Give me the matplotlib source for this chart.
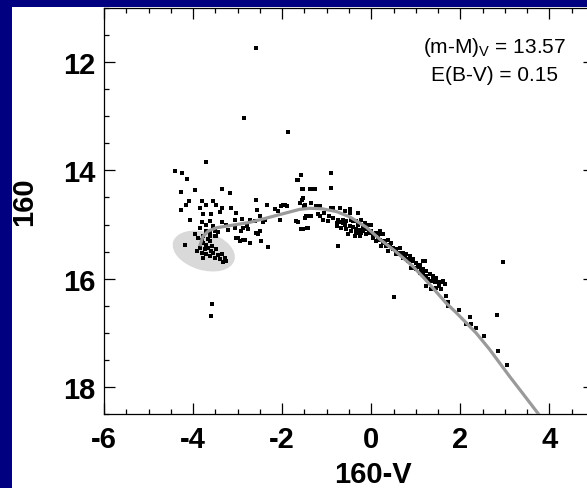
import matplotlib
matplotlib.use("Agg")
import matplotlib.pyplot as plt
from matplotlib.patches import Ellipse, Rectangle
from matplotlib import transforms
from matplotlib.ticker import MultipleLocator

plt.rcParams["font.family"] = ["Liberation Sans", "DejaVu Sans"]
plt.rcParams["font.weight"] = "bold"
plt.rcParams["axes.unicode_minus"] = False

# Star photometry: colour (160-V) and magnitude (160)
star_color = [
    -2.58, -2.86, -1.86, -3.70, -4.41, -4.26, -4.13, -4.28, -3.95, -3.34, -3.18, -2.58, -1.66,
    -4.09, -4.15, -4.28, -3.79, -3.70, -3.55, -3.49, -3.85, -3.35, -3.40, -3.14, -3.03, -3.59,
    -3.77, -4.07, -3.81, -3.62, -3.70, -3.55, -3.36, -3.85, -3.21, -3.70, -3.51, -3.26, -3.06,
    -3.78, -3.62, -3.48,
    -2.35, -2.56, -2.17, -2.09, -2.02, -1.90, -2.91, -3.06, -2.73, -2.50, -2.39, -2.80, -2.05,
    -2.99, -2.88, -2.73, -2.58, -2.47, -2.32, -1.68, -1.64, -1.55, -1.53, -1.50, -1.42, -1.64,
    -1.53, -1.44, -1.98, -2.62, -2.43, -2.88, -2.77, -2.92, -2.50, -2.54, -3.03, -2.84, -2.95,
    -3.96, -3.89, -3.62, -3.51, -3.44, -3.77, -3.70, -3.62, -3.85, -3.74, -3.66, -3.59, -3.92,
    -3.81, -3.70, -3.55, -3.62, -3.51, -3.36, -3.40, -3.29, -3.33, -3.25, -3.77, -4.19, -3.80,
    -3.66, -3.72, -3.58, -3.48, -3.45, -3.57, -3.60,
    -1.57, -0.90, -1.53, -1.31, -0.90, -1.27, -1.38, -1.55, -1.35, -1.23, -1.94, -1.61, -1.49,
    -1.16, -0.86, -0.71, -0.60, -0.48, -0.30, -0.90, -0.48, -1.68, -1.57, -1.42, -1.49, -1.35,
    -1.16, -1.08, -1.46, -0.97, -0.78, -0.86, -0.75, -0.63, -0.56, -0.45, -0.34, -0.63, -0.41,
    -0.78, -0.67, -0.56, -0.45, -0.34, -0.22, -0.11, 0.00, -0.48, -0.30, -0.19, -0.11, -0.04,
    -0.52, -0.37, -0.26, -0.75, -0.34, -0.26, -0.11, -0.22, -0.15, -0.04,
    -0.04, 0.04, 0.19, 0.11, 0.26, 0.22, 0.34, -0.19, 0.00, 0.11, 0.19, 0.26, 0.19, 0.30,
    0.37, 0.45, 0.34, 0.49, 0.56, 0.64, 0.71, 0.60, 0.79, 0.86, 0.93, 0.82, 1.01, 1.09, 1.20,
    1.16, 1.23, 1.31, 1.38, 0.97, 0.37, 0.49, 0.56, 0.64, 0.71, 0.79, 0.86, 0.93, 0.90, 1.01,
    1.09, 1.16, 1.23, 1.31, 1.38, 1.46, 1.53, 1.61, 0.52, 1.23, 1.35, 1.46, 1.16, 1.27, 1.42,
    1.53, 1.57, 1.20, 1.35, 1.65, 1.57, 1.17,
    0.05, 0.15, 0.28, 0.42, 0.55, 0.68, 0.75, 0.88, 1.05, 1.12, -0.60, -0.40, -0.25, -0.70,
    -0.95, -1.20, -1.05,
    1.68, 1.72, 1.98, 2.22, 2.13, 2.24, 2.35, 2.83, 2.54, 2.84, 3.04, 2.95, 1.72,
]
star_mag = [
    11.73, 13.04, 13.29, 13.84, 14.02, 14.05, 14.16, 14.40, 14.37, 14.35, 14.41, 14.54, 14.17,
    14.57, 14.63, 14.74, 14.57, 14.63, 14.57, 14.63, 14.69, 14.69, 14.76, 14.69, 14.78, 14.80,
    14.80, 14.91, 14.96, 14.94, 15.00, 15.03, 14.96, 15.06, 15.10, 15.12, 15.12, 15.00, 15.06,
    15.21, 15.21, 15.21,
    14.63, 14.74, 14.71, 14.75, 14.66, 14.65, 14.89, 14.91, 14.91, 14.85, 14.91, 15.02, 14.91,
    15.24, 15.29, 15.35, 15.15, 15.31, 15.42, 14.94, 14.17, 14.35, 14.51, 14.66, 14.85, 14.96,
    15.09, 15.06, 14.63, 14.94, 14.95, 15.06, 15.08, 15.12, 15.12, 15.18, 15.24, 15.28, 15.31,
    15.18, 15.24, 15.15, 15.21, 15.14, 15.34, 15.37, 15.31, 15.43, 15.46, 15.43, 15.49, 15.49,
    15.52, 15.55, 15.52, 15.58, 15.61, 15.55, 15.64, 15.61, 15.70, 15.68, 15.61, 15.37, 15.28,
    15.26, 15.40, 15.40, 15.45, 15.56, 16.46, 16.69,
    14.08, 14.05, 14.34, 14.34, 14.32, 14.34, 14.35, 14.54, 14.61, 14.65, 14.63, 14.60, 14.63,
    14.66, 14.69, 14.69, 14.75, 14.78, 14.78, 14.69, 14.72, 14.94, 15.08, 15.06, 14.88, 14.85,
    14.85, 14.91, 14.85, 14.94, 14.97, 14.88, 14.91, 14.97, 14.94, 14.91, 14.94, 14.91, 14.94,
    15.03, 15.06, 15.09, 15.12, 15.09, 15.15, 15.03, 15.00, 15.03, 15.00, 15.06, 15.09, 15.00,
    15.18, 15.21, 15.18, 15.40, 15.15, 15.21, 15.18, 14.91, 14.97, 15.00,
    15.15, 15.24, 15.18, 15.31, 15.34, 15.40, 15.37, 15.12, 15.12, 15.15, 15.12, 15.18, 15.28,
    15.31, 15.28, 15.34, 15.40, 15.43, 15.46, 15.43, 15.52, 15.55, 15.55, 15.58, 15.64, 15.68,
    15.71, 15.74, 15.68, 15.83, 15.86, 15.92, 15.95, 15.80, 15.49, 15.46, 15.55, 15.52, 15.61,
    15.64, 15.59, 15.68, 15.80, 15.83, 15.89, 15.68, 15.95, 15.92, 16.01, 15.98, 16.07, 16.04,
    16.33, 16.14, 16.20, 16.17, 15.89, 16.01, 16.07, 16.14, 16.20, 15.95, 16.04, 16.10, 16.07,
    15.68,
    15.20, 15.25, 15.30, 15.38, 15.48, 15.55, 15.60, 15.66, 15.78, 15.82, 15.00, 15.05, 15.10,
    14.95, 14.85, 14.80, 14.78,
    16.32, 16.44, 16.58, 16.71, 16.84, 16.84, 16.92, 16.67, 17.06, 17.33, 17.60, 15.69, 16.50,
]

# Model isochrone
iso_color = [-3.85, -3.78, -3.66, -3.48, -3.10, -2.73, -2.35, -1.98, -1.61, -1.38, -1.10,
             -0.78, -0.48, -0.11, 0.19, 0.55, 0.93, 1.23, 1.68, 1.91, 2.35, 2.65, 3.10,
             3.40, 3.80]
iso_mag = [15.40, 15.22, 15.12, 15.06, 15.01, 14.96, 14.88, 14.80, 14.72, 14.70, 14.71,
           14.76, 14.86, 15.05, 15.27, 15.50, 15.77, 16.03, 16.45, 16.63, 17.00, 17.30,
           17.80, 18.12, 18.55]

# Highlighted clump region (centre in data units)
clump_center = (-3.76, 15.49)

distance_modulus = 13.57
reddening = 0.15

fig = plt.figure(figsize=(5.87, 4.89), dpi=100, facecolor="#000080")
fig.add_artist(Rectangle((12 / 587, 0), 1, 1 - 8 / 489, transform=fig.transFigure,
                         facecolor="white", edgecolor="none", zorder=0))

ax = fig.add_axes([104 / 587, 1 - 415 / 489, 490 / 587, 406 / 489])
ax.set_facecolor("white")
ax.set_xlim(-6, 5)
ax.set_ylim(18.5, 11.0)

clump = Ellipse((0, 0), width=0.64, height=0.38, angle=-17,
                transform=fig.dpi_scale_trans
                + transforms.ScaledTranslation(*clump_center, ax.transData),
                facecolor="#d9d9d9", edgecolor="none", zorder=1)
ax.add_patch(clump)

ax.scatter(star_color, star_mag, s=12, marker="s", c="black", linewidths=0, zorder=3)
ax.plot(iso_color, iso_mag, color="#9a9a9a", lw=2.3, zorder=4, solid_capstyle="butt",
        solid_joinstyle="round")

ax.xaxis.set_major_locator(MultipleLocator(2))
ax.xaxis.set_minor_locator(MultipleLocator(0.5))
ax.yaxis.set_major_locator(MultipleLocator(2))
ax.yaxis.set_minor_locator(MultipleLocator(0.5))
ax.tick_params(which="both", direction="in", top=True, right=True, width=0.9)
ax.tick_params(which="major", length=7.7, labelsize=21)
ax.tick_params(which="minor", length=3.8)
ax.tick_params(axis="x", pad=8)
ax.tick_params(axis="y", pad=6)
for s in ax.spines.values():
    s.set_linewidth(0.9)

ax.set_xlabel("160-V", fontsize=21, fontweight="bold")
ax.xaxis.set_label_coords(0.549, -0.114)
ax.set_ylabel("160", fontsize=21, fontweight="bold")
ax.yaxis.set_label_coords(-0.135, 0.525)

ax.text(0.796, 0.904, r"(m-M)$_\mathregular{V}$ = %.2f" % distance_modulus,
        transform=ax.transAxes, ha="center", va="center", fontsize=15, fontweight="normal")
ax.text(0.796, 0.837, "E(B-V) = %.2f" % reddening, transform=ax.transAxes,
        ha="center", va="center", fontsize=15, fontweight="normal")

fig.savefig("out.png", dpi=100, facecolor=fig.get_facecolor())
